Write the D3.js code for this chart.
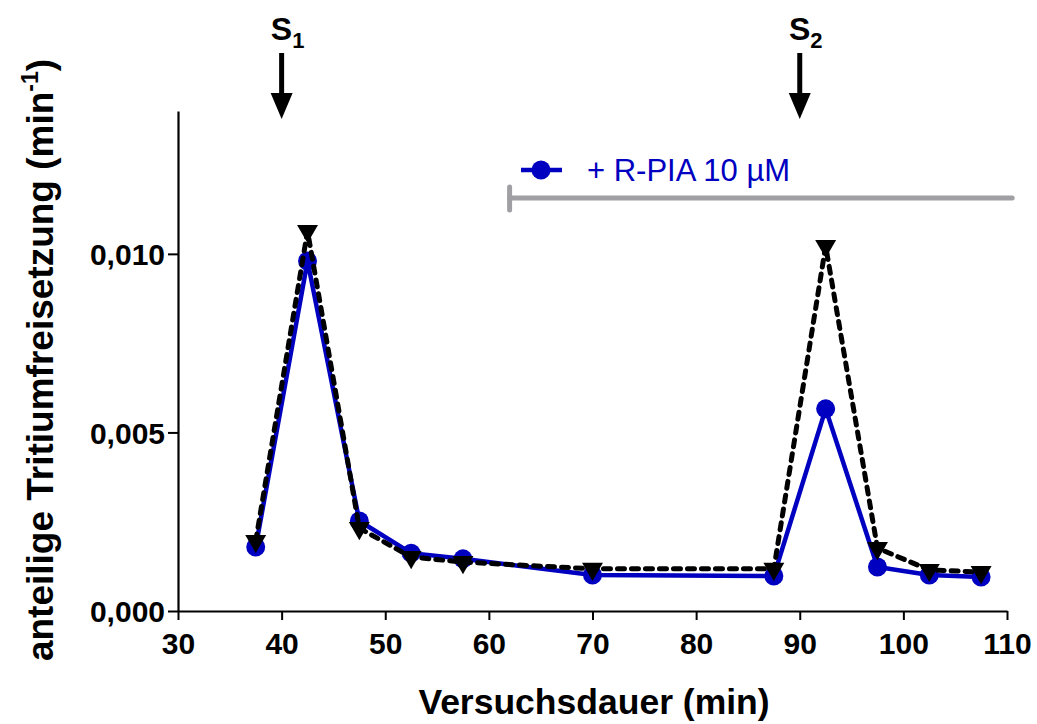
<!DOCTYPE html>
<html><head><meta charset="utf-8">
<script src="https://cdn.jsdelivr.net/npm/d3@7"></script>
<style>body{margin:0;background:#fff}svg{display:block}text{font-family:Arial,"Liberation Sans",sans-serif}</style>
</head><body><svg id="c" width="1037" height="724"></svg>
<script>
const times = [37.5, 42.5, 47.5, 52.5, 57.5, 70, 87.5, 92.5, 97.5, 102.5, 107.5];
const rpia = [0.00179, 0.0098, 0.00252, 0.00162, 0.00146, 0.00101, 0.00098, 0.00566, 0.00123, 0.00101, 0.00095];
const control = [0.00196, 0.01064, 0.00232, 0.00151, 0.00137, 0.00118, 0.00118, 0.01022, 0.00176, 0.00115, 0.00109];
const xTicks = [30, 40, 50, 60, 70, 80, 90, 100, 110];
const yTicks = [0, 0.005, 0.010];
const stimuli = [{label: "S", sub: "1", t: 40}, {label: "S", sub: "2", t: 90}];
const drugPeriod = [62, 110.5];
const legendLabel = "+ R-PIA 10 µM";

const svg = d3.select("#c");
const x = d3.scaleLinear().domain([30, 110]).range([178, 1007]);
const y = d3.scaleLinear().domain([0, 0.014]).range([611, 111]);
const blue = "#0000C0";
const fmt = d => d3.format(".3f")(d).replace(".", ",");

// axes
const xa = svg.append("g").attr("transform", "translate(0,611)")
  .call(d3.axisBottom(x).tickValues(xTicks).tickSize(9).tickPadding(6).tickSizeOuter(0));
const ya = svg.append("g").attr("transform", "translate(178,0)")
  .call(d3.axisLeft(y).tickValues(yTicks).tickFormat(fmt).tickSize(10).tickPadding(3).tickSizeOuter(0));
[xa, ya].forEach(a => {
  a.select(".domain").attr("stroke", "#000").attr("stroke-width", 2.2);
  a.selectAll(".tick line").attr("stroke", "#000").attr("stroke-width", 2);
  a.selectAll("text").attr("font-size", 30).attr("font-weight", "bold").attr("fill", "#000");
});
ya.selectAll("text").attr("dy", "0.36em");
xa.selectAll("text").attr("dy", "0.92em");

// axis titles
svg.append("text").attr("x", 594).attr("y", 714).attr("text-anchor", "middle")
  .attr("font-size", 35.5).attr("font-weight", "bold").text("Versuchsdauer (min)");
const yt = svg.append("text").attr("transform", "translate(53,360) rotate(-90)")
  .attr("text-anchor", "middle").attr("font-size", 37).attr("font-weight", "bold");
yt.append("tspan").text("anteilige Tritiumfreisetzung (min");
yt.append("tspan").attr("font-size", 23).attr("dy", -15).text("-1");
yt.append("tspan").attr("dy", 15).text(")");

// drug bar
svg.append("line").attr("x1", x(drugPeriod[0])).attr("x2", x(drugPeriod[1]))
  .attr("y1", 198).attr("y2", 198).attr("stroke", "#a0a0a4").attr("stroke-width", 5).attr("stroke-linecap", "round");
svg.append("line").attr("x1", x(drugPeriod[0])).attr("x2", x(drugPeriod[0]))
  .attr("y1", 187).attr("y2", 210).attr("stroke", "#a0a0a4").attr("stroke-width", 5).attr("stroke-linecap", "round");

// stimulus arrows
stimuli.forEach(s => {
  const cx = x(s.t);
  const t = svg.append("text").attr("x", cx + 6).attr("y", 40).attr("text-anchor", "middle")
    .attr("font-size", 32).attr("font-weight", "bold");
  t.append("tspan").text(s.label);
  t.append("tspan").attr("dy", 8).attr("font-size", 22).text(s.sub);
  svg.append("line").attr("x1", cx).attr("x2", cx).attr("y1", 53).attr("y2", 100)
    .attr("stroke", "#000").attr("stroke-width", 5);
  svg.append("path").attr("d", `M${cx-11},93 L${cx+11},93 L${cx},119 Z`).attr("fill", "#000");
});

const line = d3.line().x((d, i) => x(times[i])).y(d => y(d));

// blue series
svg.append("path").datum(rpia).attr("d", line).attr("fill", "none")
  .attr("stroke", blue).attr("stroke-width", 4.5).attr("stroke-linejoin", "miter");
svg.selectAll(".bc").data(rpia).join("circle").attr("cx", (d, i) => x(times[i])).attr("cy", d => y(d))
  .attr("r", 9.5).attr("fill", blue);

// control dashed
svg.append("path").datum(control).attr("d", line).attr("fill", "none")
  .attr("stroke", "#000").attr("stroke-width", 5).attr("stroke-dasharray", "7,7").attr("stroke-linecap", "round");
const tri = d3.symbol().type(d3.symbolTriangle).size(190);
svg.selectAll(".tr").data(control).join("path").attr("d", tri)
  .attr("transform", (d, i) => `translate(${x(times[i])},${y(d)}) rotate(180)`).attr("fill", "#000");

// legend
svg.append("line").attr("x1", 521).attr("x2", 562).attr("y1", 170).attr("y2", 170)
  .attr("stroke", blue).attr("stroke-width", 4.5);
svg.append("circle").attr("cx", 541).attr("cy", 170).attr("r", 9.5).attr("fill", blue);
svg.append("text").attr("x", 587).attr("y", 181).attr("font-size", 31).attr("fill", blue).text(legendLabel);
</script></body></html>
